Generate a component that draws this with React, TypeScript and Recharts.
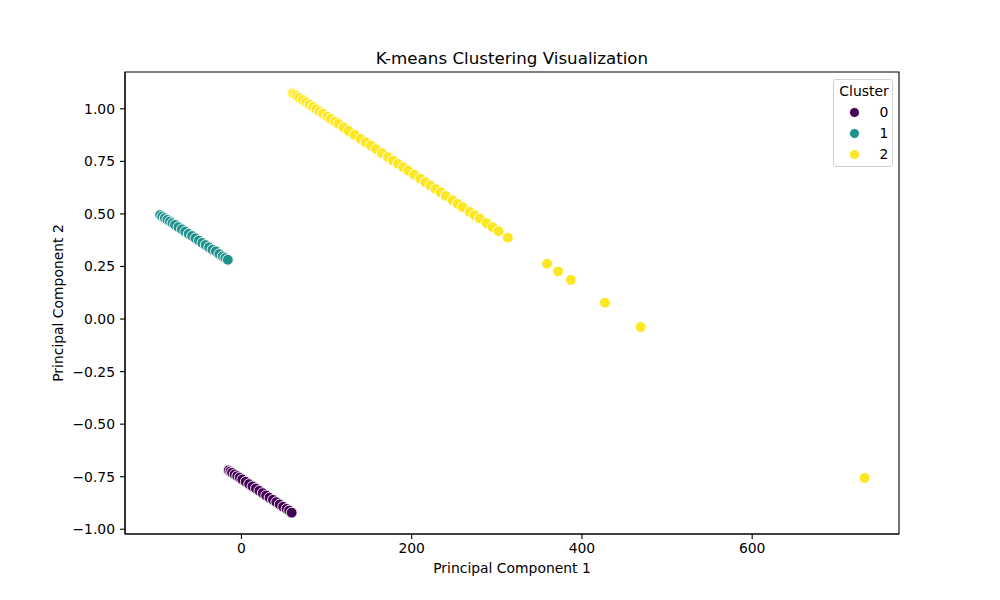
import React from 'react';
import { ScatterChart, Scatter, XAxis, YAxis, ReferenceArea } from 'recharts';

const clusterLabels = ['0', '1', '2'];
const clusterColors = ['#440154', '#21918c', '#fde725'];

const cluster0 = [
  { x: -15, y: -0.72 }, { x: -13, y: -0.725 }, { x: -11, y: -0.731 }, { x: -8, y: -0.739 },
  { x: -5, y: -0.747 }, { x: -2, y: -0.754 }, { x: 1, y: -0.763 }, { x: 5, y: -0.774 },
  { x: 9, y: -0.785 }, { x: 13, y: -0.796 }, { x: 17, y: -0.806 }, { x: 21, y: -0.817 },
  { x: 25, y: -0.828 }, { x: 29, y: -0.839 }, { x: 33, y: -0.85 }, { x: 37, y: -0.86 },
  { x: 41, y: -0.871 }, { x: 45, y: -0.882 }, { x: 49, y: -0.893 }, { x: 53, y: -0.903 },
  { x: 56, y: -0.911 }, { x: 59, y: -0.921 },
];

const cluster1 = [
  { x: -95.5, y: 0.495 }, { x: -93, y: 0.488 }, { x: -90, y: 0.48 }, { x: -87, y: 0.472 },
  { x: -84, y: 0.464 }, { x: -81, y: 0.456 }, { x: -78, y: 0.448 }, { x: -74, y: 0.437 },
  { x: -70, y: 0.427 }, { x: -66, y: 0.416 }, { x: -62, y: 0.405 }, { x: -58, y: 0.395 },
  { x: -54, y: 0.384 }, { x: -50, y: 0.373 }, { x: -46, y: 0.362 }, { x: -42, y: 0.352 },
  { x: -38, y: 0.341 }, { x: -34, y: 0.33 }, { x: -30, y: 0.322 }, { x: -26, y: 0.309 },
  { x: -22, y: 0.298 }, { x: -19, y: 0.29 }, { x: -16, y: 0.282 },
];

const cluster2 = [
  { x: 60, y: 1.074 }, { x: 62, y: 1.069 }, { x: 65, y: 1.061 }, { x: 68, y: 1.052 },
  { x: 72, y: 1.042 }, { x: 76, y: 1.031 }, { x: 80, y: 1.02 }, { x: 84, y: 1.009 },
  { x: 88, y: 0.998 }, { x: 92, y: 0.987 }, { x: 96, y: 0.977 }, { x: 101, y: 0.963 },
  { x: 105, y: 0.952 }, { x: 110, y: 0.939 }, { x: 114, y: 0.928 }, { x: 120, y: 0.912 },
  { x: 126, y: 0.895 }, { x: 133, y: 0.876 }, { x: 140, y: 0.857 }, { x: 146, y: 0.841 },
  { x: 152, y: 0.825 }, { x: 158, y: 0.808 }, { x: 165, y: 0.789 }, { x: 172, y: 0.771 },
  { x: 178, y: 0.754 }, { x: 184, y: 0.738 }, { x: 190, y: 0.722 }, { x: 196, y: 0.706 },
  { x: 203, y: 0.687 }, { x: 210, y: 0.668 }, { x: 216, y: 0.651 }, { x: 222, y: 0.635 },
  { x: 228, y: 0.619 }, { x: 234, y: 0.603 }, { x: 240, y: 0.586 }, { x: 248, y: 0.565 },
  { x: 254, y: 0.548 }, { x: 260, y: 0.532 }, { x: 268, y: 0.51 }, { x: 274, y: 0.494 },
  { x: 280, y: 0.478 }, { x: 288, y: 0.456 }, { x: 295, y: 0.437 }, { x: 302, y: 0.418 },
  { x: 313, y: 0.387 }, { x: 359, y: 0.263 }, { x: 372, y: 0.227 }, { x: 387, y: 0.186 },
  { x: 427, y: 0.078 }, { x: 469, y: -0.038 }, { x: 732, y: -0.756 },
];

const clusters = [cluster0, cluster1, cluster2];

const xTicks = [0, 200, 400, 600];
const yTicks = [-1, -0.75, -0.5, -0.25, 0, 0.25, 0.5, 0.75, 1];
const xDomain = [-136.8, 772.5];
const yDomain = [-1.0225, 1.175];

const FONT = '"DejaVu Sans", sans-serif';
const FS = 13.9;

const fmtY = (v: number) => v.toFixed(2).replace('-', '\u2212');

const makeShape = (color: string) => (props: any) => (
  <circle cx={props.cx} cy={props.cy} r={5.4} fill={color} stroke="#ffffff" strokeWidth={0.9} />
);

const textBase: React.CSSProperties = {
  position: 'absolute',
  fontFamily: FONT,
  color: '#000',
  whiteSpace: 'nowrap',
  lineHeight: 1,
};

export default function App() {
  return (
    <div style={{ position: 'absolute', left: 0, top: 0, width: 1000, height: 600, background: '#fff' }}>
      <ScatterChart
        width={1000}
        height={600}
        margin={{ top: 72, right: 101, bottom: 26, left: 60 }}
        style={{ fontFamily: FONT }}
      >
        <XAxis
          type="number"
          dataKey="x"
          domain={xDomain}
          ticks={xTicks}
          allowDataOverflow
          height={40}
          tickSize={5}
          tickMargin={4}
          axisLine={{ stroke: '#000', strokeWidth: 1.1 }}
          tickLine={{ stroke: '#000', strokeWidth: 1.1 }}
          tick={{ fill: '#000', fontSize: FS, fontFamily: FONT }}
        />
        <YAxis
          type="number"
          dataKey="y"
          domain={yDomain}
          ticks={yTicks}
          allowDataOverflow
          width={65}
          tickSize={5}
          tickMargin={5}
          tickFormatter={fmtY}
          axisLine={{ stroke: '#000', strokeWidth: 1.1 }}
          tickLine={{ stroke: '#000', strokeWidth: 1.1 }}
          tick={{ fill: '#000', fontSize: FS, fontFamily: FONT }}
        />
        {clusters.map((data, i) => (
          <Scatter
            key={clusterLabels[i]}
            name={clusterLabels[i]}
            data={data}
            fill={clusterColors[i]}
            shape={makeShape(clusterColors[i])}
            isAnimationActive={false}
          />
        ))}
        <ReferenceArea
          x1={xDomain[0]}
          x2={xDomain[1]}
          y1={yDomain[0]}
          y2={yDomain[1]}
          fill="none"
          fillOpacity={0}
          stroke="#000"
          strokeWidth={1.1}
          ifOverflow="visible"
        />
      </ScatterChart>

      <div style={{ ...textBase, left: 512, top: 58, fontSize: 16.7, transform: 'translate(-50%, -50%)' }}>
        K-means Clustering Visualization
      </div>
      <div style={{ ...textBase, left: 512, top: 569, fontSize: FS, transform: 'translate(-50%, -50%)' }}>
        Principal Component 1
      </div>
      <div
        style={{
          ...textBase,
          left: 59,
          top: 303,
          fontSize: FS,
          transform: 'translate(-50%, -50%) rotate(-90deg)',
        }}
      >
        Principal Component 2
      </div>

      <div
        style={{
          position: 'absolute',
          left: 833,
          top: 79,
          width: 60,
          height: 88,
          boxSizing: 'border-box',
          border: '1px solid #d0d0d0',
          borderRadius: 3,
          background: 'rgba(255,255,255,0.8)',
          fontFamily: FONT,
        }}
      >
        <div style={{ ...textBase, left: 30, top: 12, fontSize: FS, transform: 'translate(-50%, -50%)' }}>Cluster</div>
        {clusterLabels.map((lab, i) => (
          <React.Fragment key={lab}>
            <div
              style={{
                position: 'absolute',
                left: 21 - 6,
                top: 32.5 + i * 21 - 6,
                width: 11,
                height: 11,
                borderRadius: '50%',
                background: clusterColors[i],
                border: '0.9px solid #fff',
                boxSizing: 'border-box',
              }}
            />
            <div style={{ ...textBase, left: 50, top: 32.5 + i * 21, fontSize: FS, transform: 'translate(-50%, -50%)' }}>
              {lab}
            </div>
          </React.Fragment>
        ))}
      </div>
    </div>
  );
}
